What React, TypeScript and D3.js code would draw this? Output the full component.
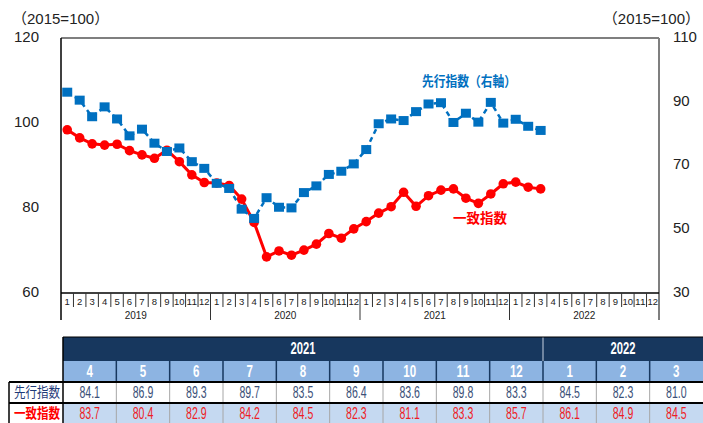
import * as d3 from "d3"

// ---- data ----
const years = ["2019", "2020", "2021", "2022"]
const monthLabels = ["1", "2", "3", "4", "5", "6", "7", "8", "9", "10", "11", "12"]

// 一致指数 (left axis), Jan 2019 - Mar 2022
const coincident = [
  98.4, 96.5, 95.1, 94.8, 95.0, 93.5, 92.5, 91.7, 93.6, 90.9, 87.8, 86.0,
  85.9, 85.3, 82.1, 76.6, 68.5, 69.9, 68.9, 70.1, 71.5, 74.0, 72.9, 75.1,
  76.8, 78.8, 80.3, 83.7, 80.4, 82.9, 84.2, 84.5, 82.3, 81.1, 83.3, 85.7,
  86.1, 84.9, 84.5,
]

// 先行指数 (right axis), Jan 2019 - Mar 2022
const leading = [
  93.0, 90.5, 85.3, 88.4, 84.6, 79.3, 81.4, 77.0, 74.4, 75.5, 71.2, 69.1,
  64.4, 62.8, 56.3, 53.4, 59.9, 56.9, 56.7, 61.5, 63.6, 67.2, 68.2, 70.5,
  75.0, 83.1, 84.6, 84.1, 86.9, 89.3, 89.7, 83.5, 86.4, 83.6, 89.8, 83.3,
  84.5, 82.3, 81.0,
]

const leftTicks = [60, 80, 100, 120]
const rightTicks = [30, 50, 70, 90, 110]

// table: Apr 2021 - Mar 2022
const tableStart = 27
const tableMonths = ["4", "5", "6", "7", "8", "9", "10", "11", "12", "1", "2", "3"]
const tableYears = [
  { label: "2021", span: 9 },
  { label: "2022", span: 3 },
]

const W = 703
const H = 423
const plot = { left: 61, right: 659, top: 38, bottom: 293 }

const BLUE = "#0070C0"
const RED = "#FF0000"
const NUM_FONT = "'Liberation Sans', Arial, 'Noto Sans CJK JP', sans-serif"
const CJK_FONT = "'Noto Sans CJK JP', sans-serif"

// rough Arial advance widths, used to squeeze digits like a narrow font
const charW = (c: string) => (c === "." ? 0.278 : 0.556)
const narrow = (s: string, size: number, ratio: number) =>
  s.split("").reduce((a, c) => a + charW(c), 0) * size * ratio

export default function App() {
  const allMonths = d3.range(years.length * 12)
  const x = d3.scaleBand<number>().domain(allMonths).range([plot.left, plot.right])
  const cx = (i: number) => (x(i) as number) + x.bandwidth() / 2
  const yL = d3.scaleLinear().domain([60, 120]).range([plot.bottom, plot.top])
  const yR = d3.scaleLinear().domain([30, 110]).range([plot.bottom, plot.top])

  const redLine = d3.line<number>().x((_, i) => cx(i)).y(d => yL(d))(coincident) || ""
  const blueLine = d3.line<number>().x((_, i) => cx(i)).y(d => yR(d))(leading) || ""

  // table geometry
  const tx0 = 63
  const colW = (W - tx0) / tableMonths.length
  const rows = [337, 361, 382, 403, 424]
  const tcol = d3.scaleLinear().domain([0, tableMonths.length]).range([tx0, W])

  let spanStart = 0
  const yearCells = tableYears.map(y => {
    const c = { label: y.label, x0: tcol(spanStart), x1: tcol(spanStart + y.span) }
    spanStart += y.span
    return c
  })

  const leadVals = leading.slice(tableStart).map(v => v.toFixed(1))
  const coinVals = coincident.slice(tableStart).map(v => v.toFixed(1))

  return (
    <svg width={W} height={H} style={{ position: "absolute", left: 0, top: 0, background: "#fff" }}>
      {/* unit labels */}
      <text x={12} y={20} fontSize={15} fontFamily={NUM_FONT} dominantBaseline="middle" fill="#222">（2015=100）</text>
      <text x={700} y={20} textAnchor="end" fontSize={15} fontFamily={NUM_FONT} dominantBaseline="middle" fill="#222">（2015=100）</text>

      {/* axis labels */}
      {leftTicks.map(t => (
        <text key={"l" + t} x={39} y={yL(t)} textAnchor="end" dominantBaseline="middle" fontSize={15} fontFamily={NUM_FONT} fill="#222">{t}</text>
      ))}
      {rightTicks.map(t => (
        <text key={"r" + t} x={673} y={yR(t)} dominantBaseline="middle" fontSize={15} fontFamily={NUM_FONT} fill="#222">{t}</text>
      ))}

      {/* frame */}
      <line x1={plot.left} x2={plot.right} y1={plot.top} y2={plot.top} stroke="#7f7f7f" strokeWidth={2} />
      <line x1={plot.right} x2={plot.right} y1={plot.top} y2={320} stroke="#7f7f7f" strokeWidth={2} />
      <line x1={plot.left} x2={plot.left} y1={plot.top} y2={320} stroke="#000" strokeWidth={1.5} />
      <line x1={plot.left} x2={plot.right} y1={plot.bottom} y2={plot.bottom} stroke="#000" strokeWidth={1.5} />

      {/* month ticks and labels */}
      {allMonths.slice(1).map(i => (
        <line key={"t" + i} x1={x(i)} x2={x(i)} y1={plot.bottom} y2={i % 12 === 0 ? 320 : 307} stroke="#333" strokeWidth={1} />
      ))}
      {allMonths.map(i => {
        const lab = monthLabels[i % 12]
        return (
          <text key={"m" + i} x={cx(i)} y={302} textAnchor="middle" dominantBaseline="middle" fontSize={9.5} fontFamily={NUM_FONT} fill="#222"
            {...(lab.length > 1 ? { textLength: 10.5, lengthAdjust: "spacingAndGlyphs" } : {})}>{lab}</text>
        )
      })}
      {years.map((yr, k) => (
        <text key={yr} x={((x(k * 12) as number) + (x(k * 12 + 11) as number) + x.bandwidth()) / 2} y={316} textAnchor="middle" dominantBaseline="middle" fontSize={10} fontFamily={NUM_FONT} fill="#222">{yr}</text>
      ))}

      {/* 一致指数 */}
      <path d={redLine} fill="none" stroke={RED} strokeWidth={3} />
      {coincident.map((v, i) => (
        <circle key={"c" + i} cx={cx(i)} cy={yL(v)} r={4.8} fill={RED} />
      ))}

      {/* 先行指数 */}
      <path d={blueLine} fill="none" stroke={BLUE} strokeWidth={2.5} strokeDasharray="5,4" />
      {leading.map((v, i) => (
        <rect key={"b" + i} x={cx(i) - 5} y={yR(v) - 4.5} width={10} height={9} fill={BLUE} />
      ))}

      {/* series labels */}
      <text x={422} y={82} dominantBaseline="middle" fontSize={13.5} fontWeight="bold" fontFamily={CJK_FONT} fill={BLUE}
        textLength={94} lengthAdjust="spacingAndGlyphs">先行指数（右軸）</text>
      <text x={453} y={219} dominantBaseline="middle" fontSize={13.5} fontWeight="bold" fontFamily={CJK_FONT} fill={RED}
        textLength={54} lengthAdjust="spacingAndGlyphs">一致指数</text>

      {/* table */}
      <rect x={tx0} y={rows[0]} width={W - tx0} height={rows[1] - rows[0]} fill="#17375E" />
      <rect x={tx0} y={rows[1]} width={W - tx0} height={rows[2] - rows[1]} fill="#8DB4E2" />
      <rect x={tx0} y={rows[2]} width={W - tx0} height={rows[3] - rows[2]} fill="#fff" />
      <rect x={tx0} y={rows[3]} width={W - tx0} height={rows[4] - rows[3]} fill="#C5D9F1" />

      {yearCells.map((c, k) => (
        <g key={c.label}>
          {k > 0 && <line x1={c.x0} x2={c.x0} y1={rows[0]} y2={rows[1]} stroke="#c8d2e0" strokeWidth={1} />}
          <text x={(c.x0 + c.x1) / 2} y={(rows[0] + rows[1]) / 2 + 1} textAnchor="middle" dominantBaseline="middle" fontSize={17} fontWeight="bold" fontFamily={NUM_FONT} fill="#fff"
            textLength={narrow(c.label, 17, 0.66)} lengthAdjust="spacingAndGlyphs">{c.label}</text>
        </g>
      ))}

      {tableMonths.map((m, i) => (
        <g key={"tm" + i}>
          {i > 0 && <line x1={tcol(i)} x2={tcol(i)} y1={rows[1]} y2={rows[2]} stroke="#17375E" strokeWidth={1.5} />}
          {i > 0 && <line x1={tcol(i)} x2={tcol(i)} y1={rows[2]} y2={rows[4]} stroke="#a6a6a6" strokeWidth={1} />}
          <text x={tcol(i) + colW / 2} y={(rows[1] + rows[2]) / 2 + 1} textAnchor="middle" dominantBaseline="middle" fontSize={16.5} fontWeight="bold" fontFamily={NUM_FONT} fill="#fff"
            textLength={narrow(m, 16.5, 0.7)} lengthAdjust="spacingAndGlyphs">{m}</text>
          <text x={tcol(i) + colW / 2} y={(rows[2] + rows[3]) / 2 + 1} textAnchor="middle" dominantBaseline="middle" fontSize={16} fontFamily={NUM_FONT} fill="#3A5078"
            textLength={narrow(leadVals[i], 16, 0.66)} lengthAdjust="spacingAndGlyphs">{leadVals[i]}</text>
          <text x={tcol(i) + colW / 2} y={(rows[3] + rows[4]) / 2 + 1} textAnchor="middle" dominantBaseline="middle" fontSize={16} fontFamily={NUM_FONT} fill="#EE1C25"
            textLength={narrow(coinVals[i], 16, 0.66)} lengthAdjust="spacingAndGlyphs">{coinVals[i]}</text>
        </g>
      ))}

      {/* table lines */}
      <line x1={tx0} x2={tx0} y1={rows[0]} y2={rows[4]} stroke="#000" strokeWidth={1.5} />
      <line x1={tx0} x2={W} y1={rows[0]} y2={rows[0]} stroke="#000" strokeWidth={1} />
      <line x1={9} x2={W} y1={rows[2]} y2={rows[2]} stroke="#000" strokeWidth={2} />
      <line x1={9} x2={W} y1={rows[3]} y2={rows[3]} stroke="#000" strokeWidth={2} />
      <line x1={9} x2={9} y1={rows[2]} y2={rows[4]} stroke="#000" strokeWidth={1.5} />

      {/* row labels */}
      <text x={14} y={(rows[2] + rows[3]) / 2 + 1} dominantBaseline="middle" fontSize={14} fontFamily={CJK_FONT} fill="#1F3A78"
        textLength={46} lengthAdjust="spacingAndGlyphs">先行指数</text>
      <text x={14} y={(rows[3] + rows[4]) / 2 + 1} dominantBaseline="middle" fontSize={14} fontWeight="bold" fontFamily={CJK_FONT} fill={RED}
        textLength={46} lengthAdjust="spacingAndGlyphs">一致指数</text>
    </svg>
  )
}
